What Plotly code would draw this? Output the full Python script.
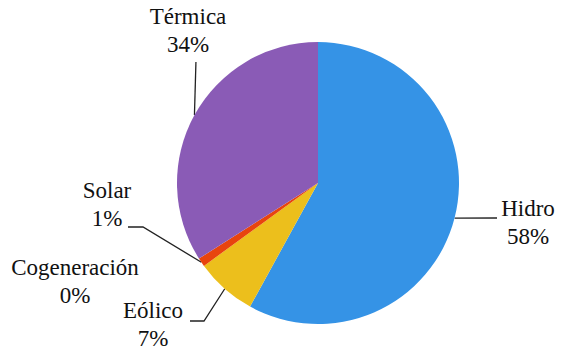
import math
import plotly.graph_objects as go

# Generation mix by source (percent)
sources = ["Hidro", "Eólico", "Cogeneración", "Solar", "Térmica"]
shares = [58, 7, 0, 1, 34]
colors = ["#3593e6", "#ecbf1c", "#a0a0a0", "#e8440e", "#8a5bb6"]

W, H = 561, 354
# pie placement in pixels
CX, CY, R = 318, 183, 141

# label block centres (px) and leader-line bend points per source
label_pos = {
    "Hidro": (528, 224),
    "Eólico": (153, 326),
    "Cogeneración": (75, 283),
    "Solar": (107, 206),
    "Térmica": (188, 32),
}
leader_path = {
    "Hidro": [(497, 218)],
    "Eólico": [(204, 321), (190, 321)],
    "Solar": [(143, 227), (128, 227)],
    "Térmica": "vertical",
}

SERIF = "Liberation Serif, Times New Roman, serif"

fig = go.Figure(go.Pie(
    labels=sources,
    values=shares,
    sort=False,
    direction="clockwise",
    rotation=0,
    textinfo="none",
    marker=dict(colors=colors),
    domain=dict(x=[(CX - R) / W, (CX + R) / W], y=[1 - (CY + R) / H, 1 - (CY - R) / H]),
    showlegend=False,
))

total = sum(shares)
cum = 0.0
tx, ty, tt = [], [], []
for name, v in zip(sources, shares):
    mid = (cum + v / 2) / total * 2 * math.pi
    cum += v
    ex = CX + R * math.sin(mid)
    ey = CY - R * math.cos(mid)
    lx, ly = label_pos[name]
    pct = f"{round(v / total * 100)}%"
    for text, dy in ((name, -14), (pct, 14)):
        tx.append(lx)
        ty.append(ly + dy)
        tt.append(text)
    path = leader_path.get(name)
    if path is None:
        continue
    pts = [(ex, ey), (ex + 1.5, 62)] if path == "vertical" else [(ex, ey)] + path
    fig.add_trace(go.Scatter(
        x=[p[0] for p in pts], y=[p[1] for p in pts], mode="lines",
        line=dict(color="#222222", width=1.3), hoverinfo="skip", showlegend=False,
    ))

# category names and percentages
fig.add_trace(go.Scatter(
    x=tx, y=ty, text=tt, mode="text", textposition="middle center",
    textfont=dict(family=SERIF, size=23, color="#111111"),
    hoverinfo="skip", showlegend=False, cliponaxis=False,
))

# pixel-space axes, hidden, used to place labels and leader lines
fig.update_xaxes(range=[0, W], visible=False, fixedrange=True)
fig.update_yaxes(range=[H, 0], visible=False, fixedrange=True)
fig.update_layout(
    width=W, height=H,
    margin=dict(l=0, r=0, t=0, b=0),
    paper_bgcolor="white",
    plot_bgcolor="white",
    font=dict(family=SERIF),
)

fig.write_html("out.html")
